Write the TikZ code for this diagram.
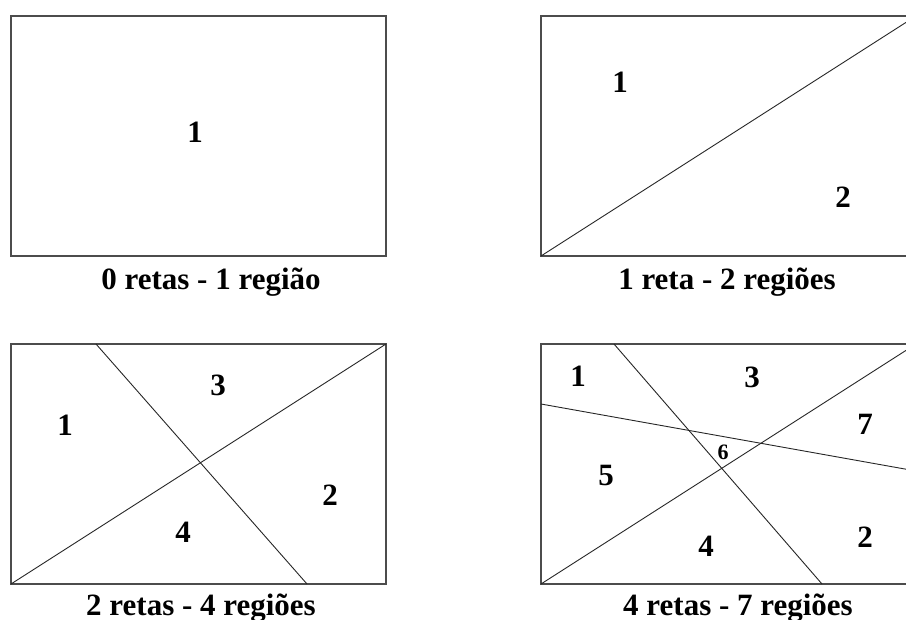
\documentclass[tikz,border=0pt]{standalone}
\usepackage{fontspec}
\setmainfont{Liberation Serif}
\begin{document}
\begin{tikzpicture}[x=1pt,y=-1pt,
  frame/.style={draw=black!70,line width=1.6pt},
  cutline/.style={draw=black!85,line width=0.9pt},
  lab/.style={font=\fontsize{31}{33}\selectfont\bfseries,inner sep=0pt},
  small/.style={font=\fontsize{22}{24}\selectfont\bfseries,inner sep=0pt},
  captext/.style={font=\fontsize{31}{33}\selectfont\bfseries,inner sep=0pt,anchor=base}]
\useasboundingbox (0,0) rectangle (906,620);
\begin{scope}
\clip (0,0) rectangle (906,620);
% box A
\coordinate (a1) at (11,16); \coordinate (a2) at (386,256);
\draw[frame] (a1) rectangle (a2);
\node[lab] (la1) at (195,132) {1};
\node[captext] (ca) at (211,290) {0 retas - 1 região};
% box B
\coordinate (b1) at (541,16); \coordinate (b2) at (916,256);
\coordinate (bbl) at (541,256); \coordinate (btr) at (916,16);
\draw[frame] (b1) rectangle (b2);
\draw[cutline] (bbl) -- (btr);
\node[lab] (lb1) at (620,82) {1};
\node[lab] (lb2) at (843,197) {2};
\node[captext] (cb) at (727,290) {1 reta - 2 regiões};
% box C
\coordinate (c1) at (11,344); \coordinate (c2) at (386,584);
\coordinate (cbl) at (11,584); \coordinate (ctr) at (386,344);
\coordinate (ct) at (96,344); \coordinate (cb2) at (307,584);
\draw[frame] (c1) rectangle (c2);
\draw[cutline] (cbl) -- (ctr);
\draw[cutline] (ct) -- (cb2);
\node[lab] (lc1) at (65,425) {1};
\node[lab] (lc3) at (218,385) {3};
\node[lab] (lc2) at (330,495) {2};
\node[lab] (lc4) at (183,532) {4};
\node[captext] (cc) at (201,615) {2 retas - 4 regiões};
% box D
\coordinate (d1) at (541,344); \coordinate (d2) at (916,584);
\coordinate (dbl) at (541,584); \coordinate (dtr) at (916,344);
\coordinate (dt) at (614,344); \coordinate (db) at (822,584);
\coordinate (dl) at (541,404); \coordinate (dr) at (916,471);
\draw[frame] (d1) rectangle (d2);
\draw[cutline] (dbl) -- (dtr);
\draw[cutline] (dt) -- (db);
\draw[cutline] (dl) -- (dr);
\node[lab] (ld1) at (578,376) {1};
\node[lab] (ld3) at (752,377) {3};
\node[lab] (ld7) at (865,424) {7};
\node[small] (ld6) at (723,452) {6};
\node[lab] (ld5) at (606,476) {5};
\node[lab] (ld4) at (706,546) {4};
\node[lab] (ld2) at (865,537) {2};
\node[captext] (cd) at (738,615) {4 retas - 7 regiões};
\end{scope}
\end{tikzpicture}
\end{document}
